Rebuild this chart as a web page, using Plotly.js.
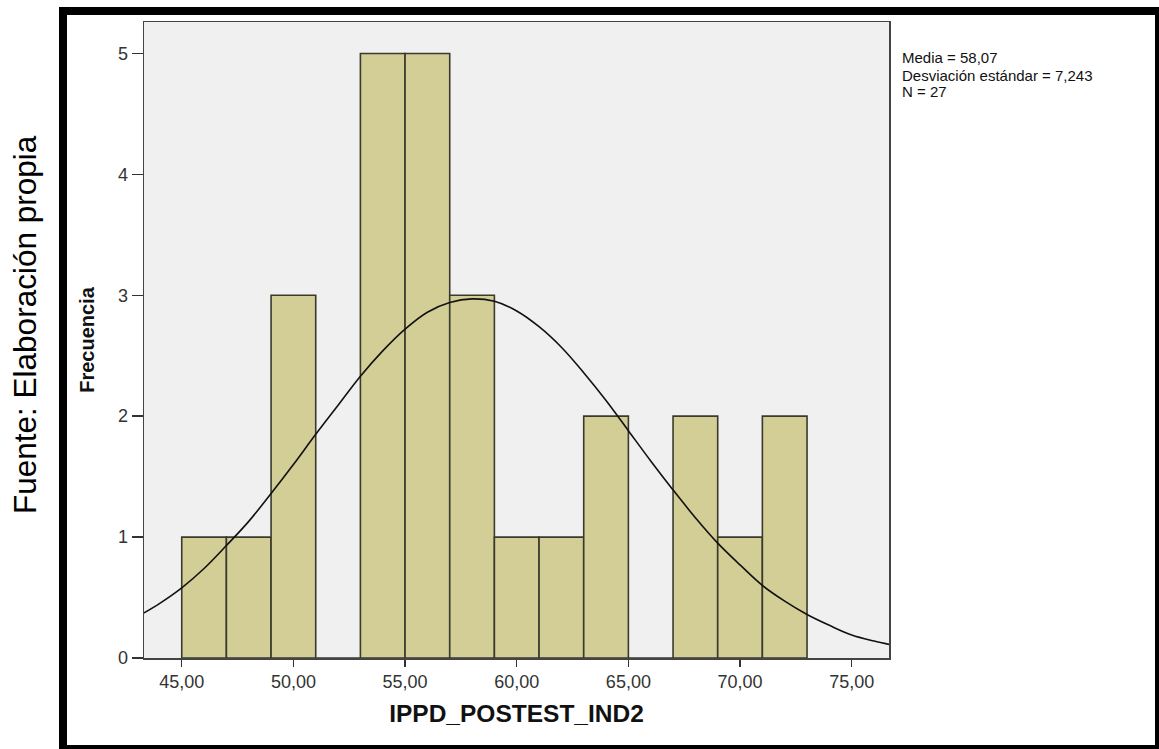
<!DOCTYPE html>
<html>
<head>
<meta charset="utf-8">
<script src="https://cdn.plot.ly/plotly-3.0.1.min.js"></script>
<style>html,body{margin:0;padding:0;background:#fff;}#chart{width:1159px;height:749px;}</style>
</head>
<body>
<div id="chart"></div>
<script>
// Histogram bins (width 2) : centres and frequencies
const binCenters = [46, 48, 50, 52, 54, 56, 58, 60, 62, 64, 66, 68, 70, 72];
const frequencies = [1, 1, 3, 0, 5, 5, 3, 1, 1, 2, 0, 2, 1, 2];
const binWidth = 2;

// Normal curve
const curveX = [43, 44, 45, 46, 47, 48, 49, 50, 51, 52, 53, 54, 55, 56, 57, 58, 59, 60, 61, 62, 63, 64, 65, 66, 67, 68, 69, 70, 71, 72, 73, 74, 75, 76, 77];
const curveY = [0.34, 0.45, 0.58, 0.74, 0.93, 1.13, 1.36, 1.60, 1.85, 2.09, 2.33, 2.54, 2.72, 2.86, 2.94, 2.97, 2.95, 2.87, 2.74, 2.57, 2.36, 2.13, 1.88, 1.63, 1.39, 1.16, 0.95, 0.77, 0.60, 0.47, 0.36, 0.27, 0.19, 0.14, 0.10];

const xTicks = [45, 50, 55, 60, 65, 70, 75];
const yTicks = [0, 1, 2, 3, 4, 5];

const statsLines = ['Media = 58,07', 'Desviación estándar = 7,243', 'N = 27'];
const sourceText = 'Fuente: Elaboración propia';
const xTitle = 'IPPD_POSTEST_IND2';
const yTitle = 'Frecuencia';

// pixel helpers for the fixed 1159x749 page
const W = 1159, H = 749;
const PL = 144, PR = 889, PT = 22, PB = 658;
const px = v => (v - PL) / (PR - PL);
const py = v => (PB - v) / (PB - PT);

const FONT = 'Liberation Sans, Arial, sans-serif';

const traces = [
  {
    type: 'bar',
    x: binCenters,
    y: frequencies,
    width: frequencies.map(() => binWidth),
    marker: { color: '#d3cd96', line: { color: '#3a3a2c', width: 1.6 } },
    hoverinfo: 'x+y',
    showlegend: false
  },
  {
    type: 'scatter',
    mode: 'lines',
    x: curveX,
    y: curveY,
    line: { color: '#111', width: 1.6, shape: 'spline' },
    hoverinfo: 'skip',
    showlegend: false
  }
];

const annotations = statsLines.map((t, i) => ({
  text: t, xref: 'paper', yref: 'paper',
  x: px(900), y: py(58 + i * 17), xanchor: 'left', yanchor: 'middle',
  showarrow: false, font: { family: FONT, size: 15, color: '#111' }
}));
annotations.push({
  text: sourceText, xref: 'paper', yref: 'paper',
  x: px(25), y: py(325), xanchor: 'center', yanchor: 'middle',
  textangle: -90, showarrow: false,
  font: { family: FONT, size: 31.5, color: '#000' }
});

const layout = {
  width: W, height: H,
  margin: { l: PL, r: W - PR, t: PT, b: H - PB, pad: 0 },
  paper_bgcolor: '#ffffff',
  plot_bgcolor: '#f0f0f0',
  bargap: 0,
  font: { family: FONT, color: '#222' },
  xaxis: {
    range: [43.31, 76.67],
    tickvals: xTicks,
    tickformat: '.2f',
    ticks: 'outside', ticklen: 7, tickwidth: 1.5, tickcolor: '#333',
    showgrid: false, zeroline: false,
    showline: true, mirror: true, linecolor: '#444', linewidth: 1.5,
    tickfont: { family: FONT, size: 18, color: '#333' },
    title: { text: xTitle, standoff: 14, font: { family: FONT, size: 24.5, color: '#111', weight: 'bold' } },
    fixedrange: true
  },
  yaxis: {
    range: [0, 5.26],
    tickvals: yTicks,
    ticks: 'outside', ticklen: 11, tickwidth: 1.5, tickcolor: '#333',
    showgrid: false, zeroline: false,
    showline: true, mirror: true, linecolor: '#444', linewidth: 1.5,
    tickfont: { family: FONT, size: 18, color: '#333' },
    title: { text: yTitle, standoff: 18, font: { family: FONT, size: 20, color: '#111', weight: 'bold' } },
    fixedrange: true
  },
  separators: ',.',
  annotations: annotations,
  shapes: [
    {
      type: 'rect', xref: 'paper', yref: 'paper', layer: 'above',
      x0: px(63), x1: px(1159), y0: py(749), y1: py(11),
      line: { color: '#000', width: 8 }, fillcolor: 'rgba(0,0,0,0)'
    }
  ],
  showlegend: false
};

Plotly.newPlot('chart', traces, layout, { displayModeBar: false, staticPlot: true });
</script>
</body>
</html>
